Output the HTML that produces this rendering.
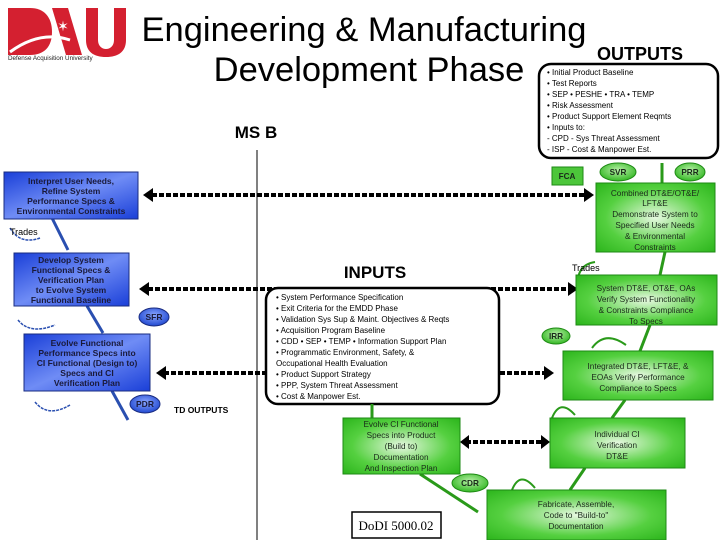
<!DOCTYPE html><html><head><style>
body{margin:0;width:720px;height:540px;background:#fff;overflow:hidden;font-family:"Liberation Sans",sans-serif}
</style></head><body>
<svg width="720" height="540" xmlns="http://www.w3.org/2000/svg" font-family="Liberation Sans, sans-serif">
<defs>
<linearGradient id="bl" x1="0" y1="0" x2="1" y2="1"><stop offset="0" stop-color="#1a3fd8"/><stop offset="0.5" stop-color="#6f8cf5"/><stop offset="1" stop-color="#1a3fd8"/></linearGradient>
<radialGradient id="gr" cx="0.5" cy="0.5" r="0.7"><stop offset="0" stop-color="#e6f8e0"/><stop offset="0.6" stop-color="#55d040"/><stop offset="1" stop-color="#2cb51c"/></radialGradient>
<radialGradient id="be" cx="0.5" cy="0.4" r="0.6"><stop offset="0" stop-color="#8aa6ff"/><stop offset="1" stop-color="#2048d0"/></radialGradient>
<radialGradient id="ge" cx="0.5" cy="0.4" r="0.6"><stop offset="0" stop-color="#b8f0a8"/><stop offset="1" stop-color="#34b824"/></radialGradient>
</defs>
<!-- logo -->
<path d="M8 8h22c14 0 22 9 22 24s-8 23-22 23H8z" fill="#d42030"/>
<path d="M52 8h16l14 47H66z" fill="#d42030"/>
<path d="M86 8h12v32c0 6 4 9 8 9s8-3 8-9V8h12v32c0 12-8 17-20 17s-20-5-20-17z" fill="#d42030"/>
<path d="M10 52 Q40 30 70 40" stroke="#fff" stroke-width="3" fill="none"/>
<text x="63" y="31" fill="#fff" font-size="14" text-anchor="middle">✶</text>
<text x="8" y="60" font-size="6.3" fill="#222">Defense Acquisition University</text>
<!-- title -->
<text x="364" y="41" font-size="34.5" text-anchor="middle">Engineering &amp; Manufacturing</text>
<text x="369" y="81" font-size="34.5" text-anchor="middle">Development Phase</text>
<text x="640" y="60" font-size="18" font-weight="bold" text-anchor="middle">OUTPUTS</text>
<text x="256" y="138" font-size="17" font-weight="bold" text-anchor="middle">MS B</text>
<line x1="257" y1="150" x2="257" y2="540" stroke="#000" stroke-width="1"/>
<!-- outputs box -->
<rect x="539" y="64" width="179" height="94" rx="12" fill="#fff" stroke="#000" stroke-width="2.5"/>
<g font-size="8" fill="#000">
<text x="547" y="75">• Initial Product Baseline</text>
<text x="547" y="86">• Test Reports</text>
<text x="547" y="97">• SEP • PESHE • TRA • TEMP</text>
<text x="547" y="108">• Risk Assessment</text>
<text x="547" y="119">• Product Support Element Reqmts</text>
<text x="547" y="130">• Inputs to:</text>
<text x="547" y="141">- CPD - Sys Threat Assessment</text>
<text x="547" y="152">- ISP - Cost &amp; Manpower Est.</text>
</g>
<!-- dotted arrows -->
<g stroke="#000" stroke-width="4" stroke-dasharray="5,2" fill="none">
<line x1="152" y1="195" x2="588" y2="195"/>
<line x1="148" y1="289" x2="572" y2="289"/>
<line x1="164" y1="373" x2="265" y2="373"/>
<line x1="500" y1="373" x2="548" y2="373"/>
<line x1="466" y1="442" x2="544" y2="442"/>
</g>
<g fill="#000">
<path d="M143 195l10-7v14z"/><path d="M594 195l-10-7v14z"/>
<path d="M139 289l10-7v14z"/><path d="M578 289l-10-7v14z"/>
<path d="M156 373l10-7v14z"/><path d="M554 373l-10-7v14z"/>
<path d="M460 442l9-7v14z"/><path d="M550 442l-9-7v14z"/>
</g>
<!-- inputs -->
<text x="375" y="278" font-size="17" font-weight="bold" text-anchor="middle">INPUTS</text>
<rect x="266" y="288" width="233" height="116" rx="12" fill="#fff" stroke="#000" stroke-width="2.5"/>
<g font-size="8" fill="#000">
<text x="276" y="300">• System Performance Specification</text>
<text x="276" y="311">• Exit Criteria for the EMDD Phase</text>
<text x="276" y="322">• Validation Sys Sup &amp; Maint. Objectives &amp; Reqts</text>
<text x="276" y="333">• Acquisition Program Baseline</text>
<text x="276" y="344">• CDD • SEP • TEMP • Information Support Plan</text>
<text x="276" y="355">• Programmatic Environment, Safety, &amp;</text>
<text x="276" y="366">Occupational Health Evaluation</text>
<text x="276" y="377">• Product Support Strategy</text>
<text x="276" y="388">• PPP, System Threat Assessment</text>
<text x="276" y="399">• Cost &amp; Manpower Est.</text>
</g>
<!-- blue connectors -->
<g stroke="#2a4fb0" stroke-width="3" fill="none">
<line x1="52" y1="218" x2="68" y2="250"/>
<line x1="87" y1="306" x2="103" y2="333"/>
<line x1="112" y1="391" x2="128" y2="420"/>
<path d="M10 228 Q20 245 40 238" stroke-width="1.5" stroke-dasharray="3,1"/>
<path d="M18 320 Q30 335 55 325" stroke-width="1.5" stroke-dasharray="3,1"/>
<path d="M35 402 Q48 418 70 405" stroke-width="1.5" stroke-dasharray="3,1"/>
</g>
<text x="10" y="235" font-size="9">Trades</text>
<!-- blue boxes -->
<g stroke="#1a2c80" stroke-width="1">
<rect x="4" y="172" width="134" height="47" fill="url(#bl)"/>
<rect x="14" y="253" width="115" height="53" fill="url(#bl)"/>
<rect x="24" y="334" width="126" height="57" fill="url(#bl)"/>
<ellipse cx="154" cy="317" rx="15" ry="9" fill="url(#be)"/>
<ellipse cx="145" cy="404" rx="15" ry="9" fill="url(#be)"/>
</g>
<g font-size="8.5" font-weight="bold" fill="#1a1a3a" text-anchor="middle">
<text x="71" y="184">Interpret User Needs,</text><text x="71" y="194">Refine System</text><text x="71" y="204">Performance Specs &amp;</text><text x="71" y="214">Environmental Constraints</text>
<text x="71" y="263">Develop System</text><text x="71" y="273">Functional Specs &amp;</text><text x="71" y="283">Verification Plan</text><text x="71" y="293">to Evolve System</text><text x="71" y="303">Functional Baseline</text>
<text x="87" y="346">Evolve Functional</text><text x="87" y="356">Performance Specs into</text><text x="87" y="366">CI Functional (Design to)</text><text x="87" y="376">Specs and CI</text><text x="87" y="386">Verification Plan</text>
<text x="154" y="320">SFR</text><text x="145" y="407">PDR</text>
</g>
<text x="174" y="413" font-size="8.5" font-weight="bold">TD OUTPUTS</text>
<!-- green connectors -->
<g stroke="#2a9a1a" stroke-width="3" fill="none">
<line x1="372" y1="404" x2="372" y2="418"/>
<line x1="420" y1="474" x2="478" y2="512"/>
<line x1="570" y1="490" x2="585" y2="468"/>
<line x1="612" y1="418" x2="625" y2="400"/>
<line x1="640" y1="351" x2="650" y2="325"/>
<line x1="660" y1="275" x2="665" y2="252"/>
<line x1="662" y1="183" x2="662" y2="163"/>
<path d="M595 262 Q575 265 578 290" stroke-width="2"/>
<path d="M592 348 Q605 330 626 345" stroke-width="2"/>
<path d="M552 418 Q560 398 575 415" stroke-width="2"/>
<path d="M512 490 Q520 470 535 488" stroke-width="2"/>
</g>
<text x="572" y="271" font-size="9">Trades</text>
<!-- green boxes -->
<g stroke="#1e8a14" stroke-width="1">
<rect x="596" y="183" width="119" height="69" fill="url(#gr)"/>
<rect x="576" y="275" width="141" height="50" fill="url(#gr)"/>
<rect x="563" y="351" width="150" height="49" fill="url(#gr)"/>
<rect x="550" y="418" width="135" height="50" fill="url(#gr)"/>
<rect x="343" y="418" width="117" height="56" fill="url(#gr)"/>
<rect x="487" y="490" width="179" height="50" fill="url(#gr)"/>
<rect x="552" y="167" width="31" height="18" fill="#4cc63a"/>
<ellipse cx="618" cy="172" rx="18" ry="9" fill="url(#ge)"/>
<ellipse cx="690" cy="172" rx="15" ry="9" fill="url(#ge)"/>
<ellipse cx="556" cy="336" rx="14" ry="8" fill="url(#ge)"/>
<ellipse cx="470" cy="483" rx="18" ry="9" fill="url(#ge)"/>
</g>
<g font-size="8.2" fill="#1a2a1a" text-anchor="middle">
<text x="655" y="196">Combined DT&amp;E/OT&amp;E/</text><text x="655" y="206">LFT&amp;E</text><text x="655" y="217">Demonstrate System to</text><text x="655" y="228">Specified User Needs</text><text x="655" y="239">&amp; Environmental</text><text x="655" y="250">Constraints</text>
<text x="646" y="291">System DT&amp;E, OT&amp;E, OAs</text><text x="646" y="302">Verify System Functionality</text><text x="646" y="313">&amp; Constraints Compliance</text><text x="646" y="324">To Specs</text>
<text x="638" y="369">Integrated DT&amp;E, LFT&amp;E, &amp;</text><text x="638" y="380">EOAs Verify Performance</text><text x="638" y="391">Compliance to Specs</text>
<text x="617" y="437">Individual CI</text><text x="617" y="448">Verification</text><text x="617" y="459">DT&amp;E</text>
<text x="401" y="427">Evolve CI Functional</text><text x="401" y="438">Specs into Product</text><text x="401" y="449">(Build to)</text><text x="401" y="460">Documentation</text><text x="401" y="471">And Inspection Plan</text>
<text x="576" y="507">Fabricate, Assemble,</text><text x="576" y="518">Code to "Build-to"</text><text x="576" y="529">Documentation</text>
<g font-weight="bold"><text x="567" y="179">FCA</text><text x="618" y="175">SVR</text><text x="690" y="175">PRR</text><text x="556" y="339">IRR</text><text x="470" y="486">CDR</text></g>
</g>
<rect x="352" y="512" width="89" height="26" fill="#fff" stroke="#000" stroke-width="1.5"/>
<text x="396" y="530" font-size="13" font-family="Liberation Serif, serif" text-anchor="middle">DoDI 5000.02</text>
</svg>
</body></html>
